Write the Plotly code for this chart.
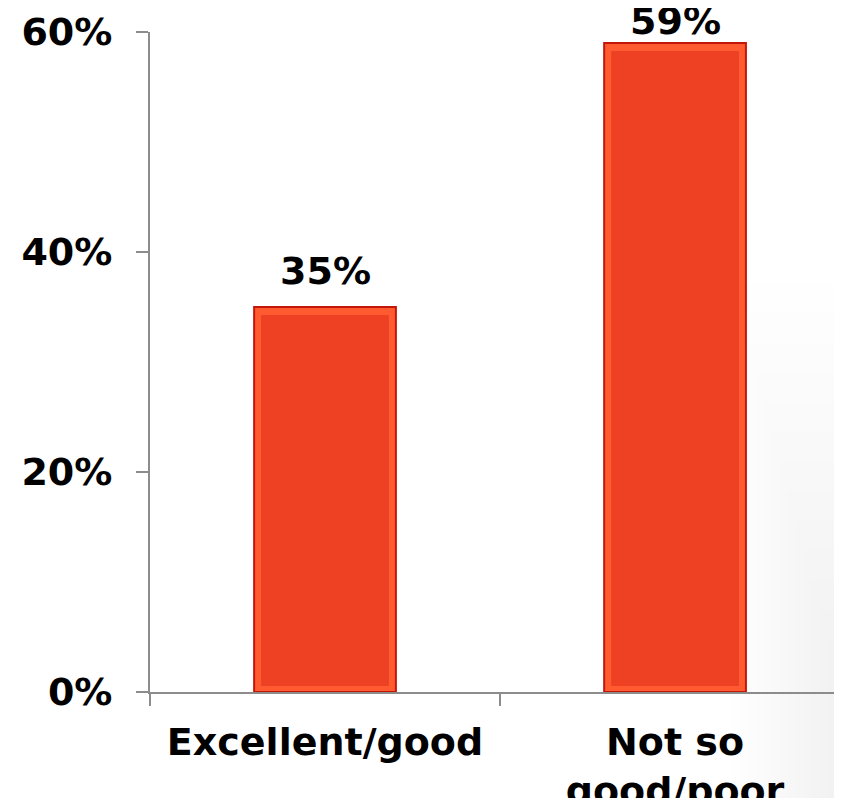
import plotly.graph_objects as go

categories = ["Excellent/good", "Not so<br>good/poor"]
values = [35, 59]
value_labels = ["35%", "59%"]
y_tick_vals = [0, 20, 40, 60]
y_tick_text = ["0%", "20%", "40%", "60%"]

FONT = "DejaVu Sans"
FSIZE = 38
AXIS_COL = "#8c8c8c"
label_shift = [12, -2]   # the top label sits closer to its bar (no room above)

# bevel insets in data units (y: 11 px per unit; x: 350 px per category)
top_inset = 0.72
bot_inset = 0.55
outer_w = 0.405
inner_w = 0.365

fig = go.Figure()
# outer bar: light bevel colour with dark outline
fig.add_trace(go.Bar(
    x=categories, y=values, width=outer_w,
    marker=dict(color="#ff5a30", line=dict(color="#c41608", width=2)),
    hoverinfo="skip", showlegend=False,
))
# inner face of the bar
fig.add_trace(go.Bar(
    x=categories, y=[v - top_inset - bot_inset for v in values], base=bot_inset,
    width=inner_w,
    marker=dict(color="#ee4123", line=dict(width=0)),
    hoverinfo="skip", showlegend=False,
))

for c, v, t, s in zip(categories, values, value_labels, label_shift):
    fig.add_annotation(x=c, y=v, text=f"<b>{t}</b>", showarrow=False,
                       yanchor="bottom", yshift=s,
                       font=dict(family=FONT, size=FSIZE, color="black"))

# very subtle grey shading towards the lower right corner
shapes = []
n = 14
for i in range(n):
    shapes.append(dict(type="rect", xref="paper", yref="paper",
                       x0=0.84 + i * 0.0115, x1=1.05,
                       y0=-0.3, y1=0.62 - i * 0.045,
                       fillcolor="#707070", opacity=0.0035, line=dict(width=0),
                       layer="below"))

fig.update_layout(
    width=842, height=790,
    margin=dict(l=142, r=8, t=24, b=106, autoexpand=False),
    paper_bgcolor="white", plot_bgcolor="rgba(0,0,0,0)",
    barmode="overlay",
    font=dict(family=FONT, size=FSIZE, color="black"),
    shapes=shapes,
    xaxis=dict(
        type="category", range=[-0.5, 1.477], automargin=False,
        showline=True, linecolor=AXIS_COL, linewidth=2,
        ticks="outside", tickson="boundaries", ticklen=12, tickwidth=2,
        tickcolor=AXIS_COL, showgrid=False, zeroline=False,
        tickfont=dict(family=FONT, size=FSIZE, color="black", weight="bold"),
        ticklabelstandoff=15,
    ),
    yaxis=dict(
        range=[0, 60], tickvals=y_tick_vals, ticktext=y_tick_text,
        automargin=False,
        showline=True, linecolor=AXIS_COL, linewidth=2,
        ticks="outside", ticklen=12, tickwidth=2, tickcolor=AXIS_COL,
        showgrid=False, zeroline=False,
        tickfont=dict(family=FONT, size=FSIZE, color="black", weight="bold"),
        ticklabelstandoff=16,
    ),
)

fig.write_html("out.html")
